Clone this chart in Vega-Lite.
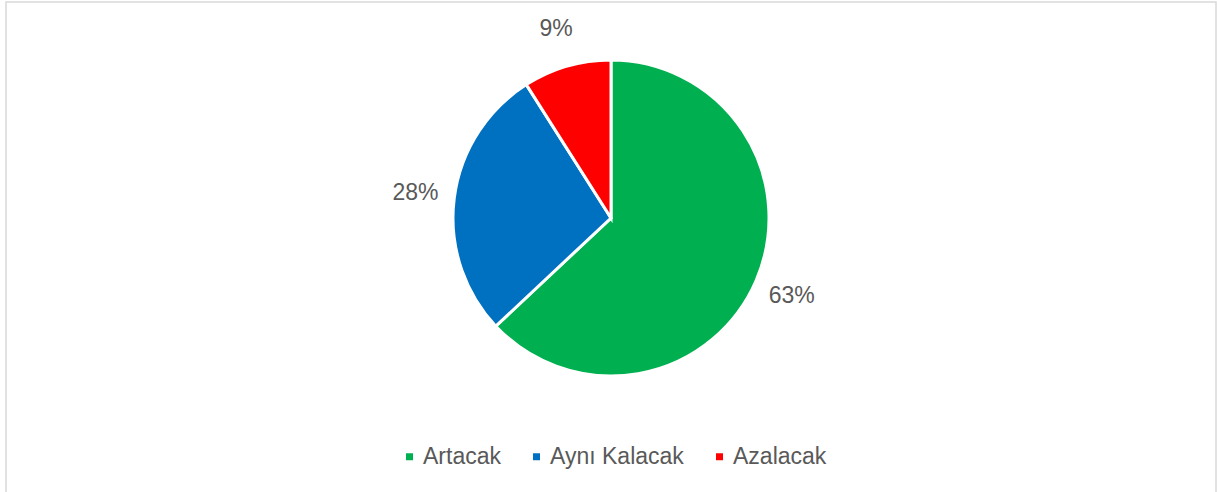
{
  "$schema": "https://vega.github.io/schema/vega-lite/v6.json",
  "width": 1217,
  "height": 492,
  "autosize": {"type": "fit", "contains": "padding"},
  "padding": {"left": 6, "top": 2, "right": 1, "bottom": -3},
  "background": "white",
  "view": {"stroke": "#d9d9d9", "strokeWidth": 1.5, "fill": "white"},
  "config": {
    "view": {"stroke": "#d9d9d9", "strokeWidth": 1.5},
    "font": "Liberation Sans"
  },
  "data": {
    "values": [
      {"kategori": "Artacak", "oran": 63, "sira": 1, "etiket": "63%"},
      {"kategori": "Aynı Kalacak", "oran": 28, "sira": 2, "etiket": "28%"},
      {"kategori": "Azalacak", "oran": 9, "sira": 3, "etiket": "9%"}
    ]
  },
  "encoding": {
    "theta": {"field": "oran", "type": "quantitative", "stack": true},
    "order": {"field": "sira", "type": "quantitative"}
  },
  "layer": [
    {
      "mark": {"type": "arc", "outerRadius": 158, "stroke": "white", "strokeWidth": 3, "y": 216},
      "encoding": {
        "color": {
          "field": "kategori",
          "type": "nominal",
          "sort": ["Artacak", "Aynı Kalacak", "Azalacak"],
          "scale": {"domain": ["Artacak", "Aynı Kalacak", "Azalacak"], "range": ["#00B050", "#0070C0", "#FF0000"]},
          "legend": {
            "title": null,
            "orient": "none",
            "direction": "horizontal",
            "legendX": 392,
            "legendY": 443,
            "padding": 0,
            "symbolType": "square",
            "symbolSize": 49,
            "symbolStrokeWidth": 0,
            "labelFontSize": 23,
            "labelColor": "#595959",
            "labelFont": "Liberation Sans",
            "labelOffset": 2,
            "columnPadding": 24
          }
        }
      }
    },
    {
      "mark": {"type": "text", "radius": 197, "y": 216, "fontSize": 23, "color": "#595959", "font": "Liberation Sans"},
      "encoding": {
        "text": {"field": "etiket", "type": "nominal"}
      }
    }
  ]
}
